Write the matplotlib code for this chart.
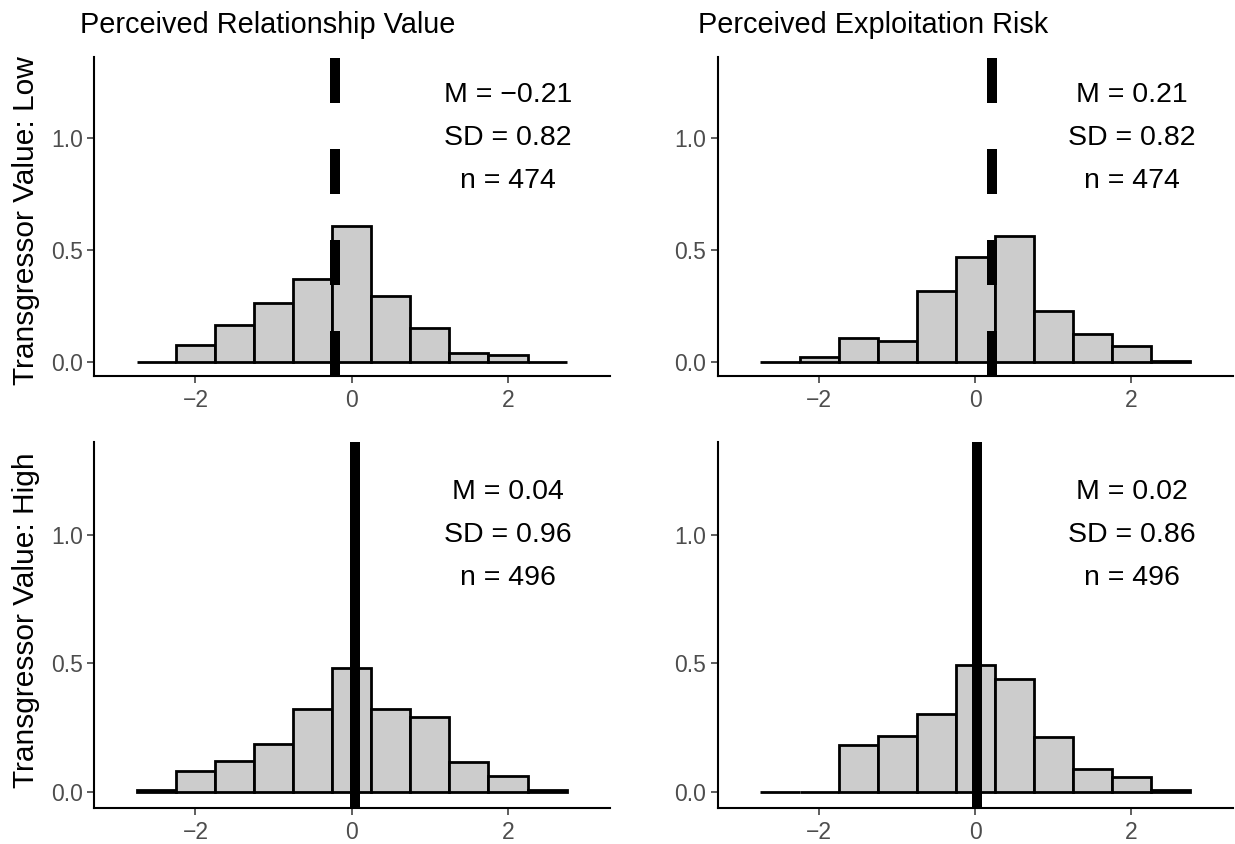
import numpy as np
import matplotlib
matplotlib.use("Agg")
from matplotlib import pyplot as plt

plt.rcParams['font.family'] = ['Liberation Sans', 'DejaVu Sans']

# histogram bins (width 0.5)
bin_edges = [-2.75, -2.25, -1.75, -1.25, -0.75, -0.25, 0.25, 0.75, 1.25, 1.75, 2.25, 2.75]

# counts per bin
counts_value_low = [0, 18, 39, 63, 88, 144, 70, 36, 9, 7, 0]
counts_risk_low = [0, 5, 25, 22, 75, 111, 134, 54, 30, 17, 1]
counts_value_high = [2, 20, 30, 46, 80, 120, 80, 72, 29, 15, 2]
counts_risk_high = [0, 0, 45, 54, 75, 122, 109, 53, 22, 14, 2]

means = [-0.21, 0.21, 0.04, 0.02]
sds = [0.82, 0.82, 0.96, 0.86]
ns = [474, 474, 496, 496]

col_titles = ["Perceived Relationship Value", "Perceived Exploitation Risk"]
row_labels = ["Transgressor Value: Low", "Transgressor Value: High"]

W, H = 1235, 844
fig = plt.figure(figsize=(W / 100, H / 100), dpi=100)

# axes boxes in pixels: left, top, right, bottom
boxes = [(93.8, 56.7, 609.6, 376.5), (717.5, 56.7, 1233, 376.5),
         (93.8, 441.5, 609.6, 808.3), (717.5, 441.5, 1233, 808.3)]
all_counts = [counts_value_low, counts_risk_low, counts_value_high, counts_risk_high]

centers = [(bin_edges[i] + bin_edges[i + 1]) / 2 for i in range(len(bin_edges) - 1)]

for i, (l, t, r, b) in enumerate(boxes):
    ax = fig.add_axes([l / W, 1 - b / H, (r - l) / W, (b - t) / H])
    ax.hist(centers, bins=bin_edges, weights=all_counts[i], density=True,
            color='#CCCCCC', edgecolor='black', linewidth=2.0, zorder=2)
    line = ax.axvline(means[i], color='black', linewidth=7.2, zorder=3)
    if i < 2:
        line.set_dashes([4.5, 4.6])
    ax.set_xlim(-3.3, 3.3)
    ax.set_ylim(-0.065, 1.365)
    ax.set_xticks([-2, 0, 2])
    ax.set_yticks([0.0, 0.5, 1.0])
    ax.set_yticklabels(['0.0', '0.5', '1.0'])
    for s in ['top', 'right']:
        ax.spines[s].set_visible(False)
    for s in ['left', 'bottom']:
        ax.spines[s].set_linewidth(1.5)
        ax.spines[s].set_color('black')
    ax.tick_params(length=5, width=1.1, color='#333333', labelcolor='#4D4D4D',
                   labelsize=16.5, pad=3)
    ax.tick_params(axis='x', pad=4)

    ax.annotate("M = %s" % f"{means[i]:.2f}".replace('-', '\u2212'), (2, 1.0),
                xytext=(0, 31), textcoords='offset points',
                ha='center', va='center', fontsize=20.5)
    ax.annotate("SD = %.2f" % sds[i], (2, 1.0), xytext=(0, 0), textcoords='offset points',
                ha='center', va='center', fontsize=20.5)
    ax.annotate("n = %d" % ns[i], (2, 1.0), xytext=(0, -31), textcoords='offset points',
                ha='center', va='center', fontsize=20.5)

# column titles
fig.text(80 / W, 1 - 33 / H, col_titles[0], fontsize=20.8, ha='left', va='baseline')
fig.text(698 / W, 1 - 33 / H, col_titles[1], fontsize=20.8, ha='left', va='baseline')

# row labels
fig.text(26 / W, 1 - 221 / H, row_labels[0], fontsize=21.5, rotation=90, ha='center', va='center')
fig.text(26 / W, 1 - 620 / H, row_labels[1], fontsize=21.5, rotation=90, ha='center', va='center')

fig.savefig("out.png", dpi=100)
